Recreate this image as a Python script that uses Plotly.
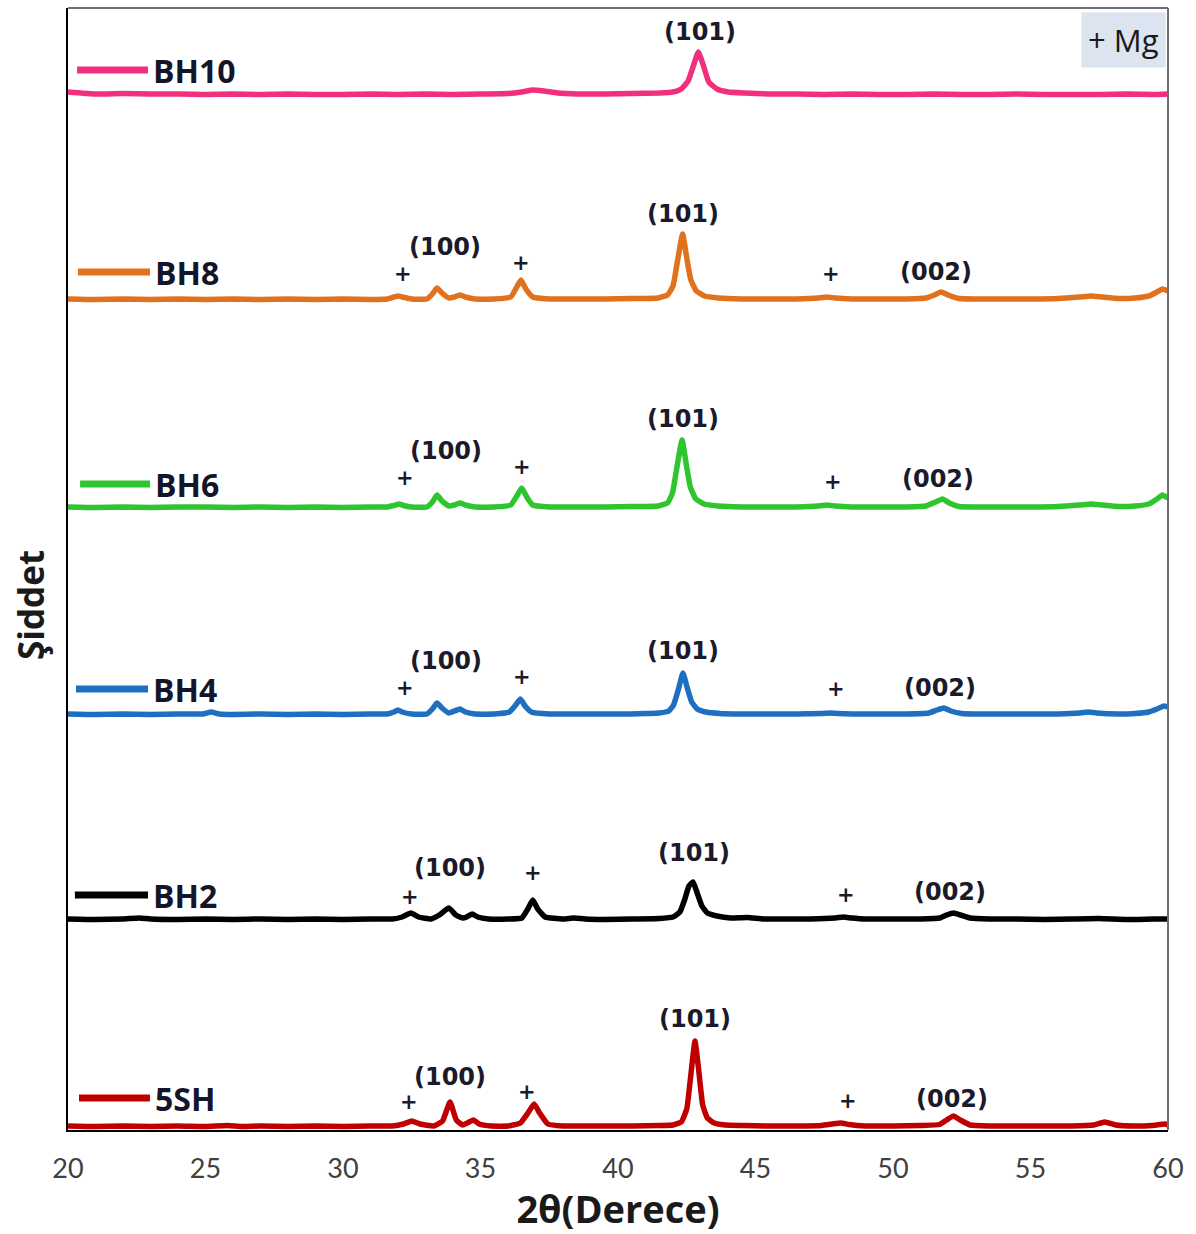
import plotly.graph_objects as go

# ---------------- data ----------------
series_names = ["BH10", "BH8", "BH6", "BH4", "BH2", "5SH"]
series_colors = ["#f0307f", "#e2711d", "#2ec52e", "#1f6fc1", "#000000", "#c00000"]
series_offsets = [1035, 830, 622, 415, 210, 3]

bh10_x = [20, 21, 22, 23, 24, 25, 26, 27, 28, 29, 30, 31, 32, 33, 34, 35, 36, 36.5, 36.9, 37.3, 37.8,
          38.5, 39.5, 40.5, 41.5, 42.0, 42.3, 42.55, 42.75, 42.92, 43.1, 43.3, 43.6, 44.0, 44.6, 45.5,
          46.5, 47.5, 48.5, 49.5, 50.5, 51.5, 52.5, 53.5, 54.5, 55.5, 56.5, 57.5, 58.5, 59.5, 60]
bh10_y = [3, 1, 1.5, 1, 1, 0.5, 1, 0.5, 1, 0.5, 0.5, 1, 0.5, 1, 0.5, 1, 1.5, 3, 5, 4, 2,
          1, 1, 1.5, 2, 3, 6, 14, 30, 43, 30, 13, 6, 3, 2, 1,
          1, 0.5, 1, 0.5, 0.5, 1, 0.5, 0.5, 1, 0.5, 0.5, 0.5, 1, 0.5, 1]

bh8_x = [20, 21, 22, 23, 24, 25, 26, 27, 28, 29, 30, 31, 31.6, 31.85, 32.0, 32.15, 32.5, 33.05, 33.25,
         33.42, 33.6, 33.85, 34.05, 34.25, 34.45, 34.8, 35.5, 36.1, 36.3, 36.47, 36.65, 36.9, 37.5, 38.5,
         39.5, 40.5, 41.0, 41.45, 41.8, 42.0, 42.17, 42.35, 42.5, 42.65, 42.85, 43.15, 43.65, 44.5, 45.5,
         46.5, 47.3, 47.6, 47.9, 48.5, 49.5, 50.5, 51.2, 51.5, 51.75, 52.0, 52.4, 53.0, 54, 55, 56, 56.8,
         57.2, 57.6, 58.2, 58.8, 59.3, 59.6, 59.8, 60]
bh8_y = [1, 0.5, 1, 0.5, 1, 0.5, 1, 0.5, 1, 0.5, 1, 0.5, 1, 3, 4, 3, 1, 1, 6,
         12, 7, 2, 3, 5, 3, 1, 1, 3, 12, 20, 11, 3, 1, 1,
         1, 1.5, 1.5, 2, 5, 14, 40, 66, 42, 20, 9, 4, 2, 1, 1,
         1, 2, 3, 2, 1, 1, 1, 2, 5, 8, 5, 1.5, 1, 1, 1, 1.5, 3,
         4, 3, 1.5, 2, 4, 8, 11, 9]

bh6_x = [20, 21, 22, 23, 24, 25, 26, 27, 28, 29, 30, 31, 31.6, 31.85, 32.04, 32.2, 32.5, 33.05, 33.25,
         33.42, 33.6, 33.85, 34.05, 34.25, 34.45, 34.8, 35.5, 36.1, 36.32, 36.5, 36.68, 36.9, 37.5, 38.5,
         39.5, 40.5, 41.0, 41.45, 41.8, 41.98, 42.15, 42.33, 42.48, 42.63, 42.83, 43.13, 43.63, 44.5, 45.5,
         46.5, 47.3, 47.6, 47.9, 48.5, 49.5, 50.5, 51.2, 51.55, 51.8, 52.05, 52.4, 53.0, 54, 55, 56, 56.8,
         57.2, 57.6, 58.2, 58.8, 59.3, 59.6, 59.8, 60]
bh6_y = [1, 0.5, 1, 0.5, 1, 1, 0.5, 1, 0.5, 1, 0.5, 1, 1, 2.5, 4, 2.5, 1, 1, 6,
         13, 7, 2, 3, 5, 3, 1, 1, 3, 12, 20, 11, 3, 1, 1,
         1, 1.5, 1.5, 2, 5, 15, 42, 68, 44, 21, 9, 4, 2, 1, 1,
         1, 2, 3, 2, 1, 1, 1, 2, 6, 9, 5, 1.5, 1, 1, 1, 1.5, 3,
         4, 3, 1.5, 2, 4, 9, 13, 10]

bh4_x = [20, 21, 22, 23, 24, 24.9, 25.2, 25.5, 26, 27, 28, 29, 30, 31, 31.6, 31.85, 32.0, 32.15, 32.5,
         33.05, 33.25, 33.42, 33.6, 33.85, 34.05, 34.25, 34.45, 34.8, 35.5, 36.05, 36.28, 36.45, 36.62,
         36.85, 37.5, 38.5, 39.5, 40.5, 41.0, 41.5, 41.85, 42.02, 42.2, 42.36, 42.52, 42.68, 42.88, 43.2,
         43.7, 44.5, 45.5, 46.5, 47.4, 47.7, 48.0, 48.5, 49.5, 50.5, 51.3, 51.6, 51.85, 52.1, 52.5, 53.0,
         54, 55, 56, 56.8, 57.1, 57.4, 58.2, 58.8, 59.3, 59.6, 59.85, 60]
bh4_y = [1, 0.5, 1, 0.5, 1, 1, 3, 1, 0.5, 1, 0.5, 1, 0.5, 1, 1, 3, 5, 3, 1,
         1, 6, 12, 7, 2, 4, 6, 3, 1, 1, 3, 10, 16, 9, 3, 1, 1, 1, 1, 1.5,
         2, 4, 10, 26, 42, 27, 13, 6, 3, 1.5, 1, 1, 1, 1.5, 2, 1.5, 1, 1, 1,
         2, 5, 7, 4, 1.5, 1, 1, 1, 1, 2, 3, 2, 1, 1.5, 3, 6, 9, 8]

bh2_x = [20, 21, 22, 22.6, 23, 24, 25, 26, 27, 28, 29, 30, 31, 31.8, 32.15, 32.47, 32.75, 33.2, 33.5,
         33.85, 34.1, 34.35, 34.5, 34.7, 34.9, 35.3, 36.0, 36.5, 36.72, 36.9, 37.08, 37.35, 38.0, 38.4,
         38.8, 39.5, 40.5, 41.5, 42.0, 42.25, 42.42, 42.58, 42.73, 42.88, 43.05, 43.25, 43.6, 44.1, 44.7,
         45.3, 46.0, 47.0, 47.9, 48.2, 48.5, 49.0, 50.0, 51.0, 51.7, 51.95, 52.2, 52.45, 52.8, 53.5, 54.5,
         55.5, 56.5, 57.5, 58.5, 59.5, 60]
bh2_y = [1, 0.5, 1, 2, 1, 0.5, 1, 0.5, 1, 0.5, 1, 0.5, 1, 1, 3, 7, 3, 1, 5,
         12, 5, 2, 3, 6, 3, 1, 1, 2, 11, 20, 11, 3, 1, 2,
         1, 0.5, 1, 1.5, 3, 8, 20, 34, 38, 27, 14, 7, 4, 2, 2.5,
         1, 1, 1, 2, 3, 2, 1, 1, 1, 2, 5, 7, 5, 2, 1, 1,
         0.5, 1, 1.5, 0.5, 1, 1]

sh5_x = [20, 21, 22, 23, 24, 25, 25.8, 26.3, 27, 28, 29, 30, 31, 31.8, 32.2, 32.5, 32.8, 33.3, 33.62,
         33.89, 34.12, 34.35, 34.52, 34.74, 34.95, 35.4, 36.0, 36.45, 36.75, 36.95, 37.15, 37.45, 38.0,
         38.5, 39.5, 40.5, 41.5, 42.0, 42.3, 42.5, 42.66, 42.8, 42.93, 43.08, 43.25, 43.5, 43.9, 44.5,
         45.5, 46.5, 47.4, 47.8, 48.1, 48.4, 49.0, 50.0, 51.0, 51.7, 51.95, 52.2, 52.45, 52.8, 53.5, 54.5,
         55.5, 56.5, 57.3, 57.7, 58.1, 58.8, 59.4, 59.9, 60]
sh5_y = [1, 0.5, 1, 0.5, 1, 0.5, 1.5, 0.5, 1, 0.5, 1, 0.5, 1, 1, 3, 6, 3, 1, 6,
         25, 7, 2, 4, 7, 3, 1, 1, 4, 15, 23, 14, 3, 1,
         1, 1, 1, 1.5, 2, 5, 18, 55, 86, 58, 22, 9, 4, 2, 1.5,
         1, 1, 1.5, 3, 4, 2.5, 1, 1, 1.5, 2.5, 7, 11, 7, 2, 1, 1,
         1, 1, 2, 5, 2, 1, 1.5, 3, 2]

series_x = [bh10_x, bh8_x, bh6_x, bh4_x, bh2_x, sh5_x]
series_y = [bh10_y, bh8_y, bh6_y, bh4_y, bh2_y, sh5_y]

# peak labels: (text, 2theta, intensity-axis position)
label_texts = ["(101)",
               "+", "(100)", "+", "(101)", "+", "(002)",
               "+", "(100)", "+", "(101)", "+", "(002)",
               "+", "(100)", "+", "(101)", "+", "(002)",
               "+", "(100)", "+", "(101)", "+", "(002)",
               "+", "(100)", "+", "(101)", "+", "(002)"]
label_x = [42.98,
           32.18, 33.71, 36.47, 42.36, 47.75, 51.56,
           32.25, 33.75, 36.51, 42.36, 47.82, 51.64,
           32.25, 33.75, 36.51, 42.36, 47.93, 51.71,
           32.44, 33.89, 36.91, 42.76, 48.29, 52.07,
           32.40, 33.89, 36.69, 42.80, 48.36, 52.15]
label_y = [1098,
           856, 883, 867, 916, 856, 858,
           652, 679, 663, 711, 648, 651,
           442, 469, 453, 479, 441, 442,
           233, 262, 257, 277, 235, 238,
           28, 53, 38, 111, 29, 31]

# series name keys (segment start/end in 2theta, height on intensity axis)
key_x0 = [20.33, 20.36, 20.44, 20.29, 20.25, 20.40]
key_x1 = [22.91, 22.98, 22.98, 22.91, 22.91, 22.98]
key_y = [1060, 858, 646, 441, 235, 32]

x_ticks = [20, 25, 30, 35, 40, 45, 50, 55, 60]

# ---------------- figure ----------------
fig = go.Figure()
for name, col, off, xs, ys in zip(series_names, series_colors, series_offsets, series_x, series_y):
    fig.add_trace(go.Scatter(x=xs, y=[off + v for v in ys], mode="lines", name=name,
                             line=dict(color=col, width=5.5, shape="spline", smoothing=0.4),
                             showlegend=False, hoverinfo="skip"))

shapes = []
annotations = []
for name, col, x0, x1, yk in zip(series_names, series_colors, key_x0, key_x1, key_y):
    shapes.append(dict(type="line", xref="x", yref="y", x0=x0, x1=x1, y0=yk, y1=yk,
                       line=dict(color=col, width=7)))
    annotations.append(dict(x=x1 + 0.12, y=yk, xref="x", yref="y", text=name, showarrow=False,
                            xanchor="left", yanchor="middle",
                            font=dict(family="Open Sans", size=32, color="#15152a", weight="bold")))

for t, lx, ly in zip(label_texts, label_x, label_y):
    annotations.append(dict(x=lx, y=ly, xref="x", yref="y", text=t, showarrow=False,
                            xanchor="center", yanchor="middle",
                            font=dict(family="DejaVu Sans", size=24 if t != "+" else 21,
                                      color="#1a1a2a", weight="bold")))

# "+ Mg" key box
annotations.append(dict(x=0.998, y=0.996, xref="paper", yref="paper", text="+ Mg", showarrow=False,
                        xanchor="right", yanchor="top", bgcolor="#dce4ef", borderpad=6,
                        font=dict(family="Open Sans", size=31, color="#1a1a1a")))

# y-axis title
annotations.append(dict(xref="x domain", yref="y domain",
                        x=(30 - 68) / 1100, y=(1130 - 605) / 1122,
                        text="Şiddet", showarrow=False, textangle=-90,
                        xanchor="center", yanchor="middle",
                        font=dict(family="Open Sans", size=35, color="#1a1a1a", weight="bold")))

# top and right frame lines (grey)
shapes.append(dict(type="line", xref="paper", yref="paper", x0=0, x1=1, y0=1, y1=1,
                   line=dict(color="#707070", width=2)))
shapes.append(dict(type="line", xref="paper", yref="paper", x0=1, x1=1, y0=0, y1=1,
                   line=dict(color="#707070", width=2)))

fig.update_layout(
    width=1196, height=1234,
    margin=dict(l=68, r=28, t=8, b=104),
    paper_bgcolor="white", plot_bgcolor="white",
    shapes=shapes, annotations=annotations,
    xaxis=dict(range=[20, 60], tickvals=x_ticks, ticktext=[str(v) for v in x_ticks],
               showgrid=False, zeroline=False, showline=True, linecolor="#000000", linewidth=1.5,
               ticks="", ticklabelstandoff=14, tickfont=dict(family="Lato", size=27, color="#404040"),
               title=dict(text="2θ(Derece)", standoff=16,
                          font=dict(family="Open Sans", size=38, color="#1a1a1a", weight="bold"))),
    yaxis=dict(range=[0, 1122], showgrid=False, zeroline=False, showline=True,
               linecolor="#000000", linewidth=1.5, showticklabels=False, ticks=""),
)

fig.write_html("out.html")
